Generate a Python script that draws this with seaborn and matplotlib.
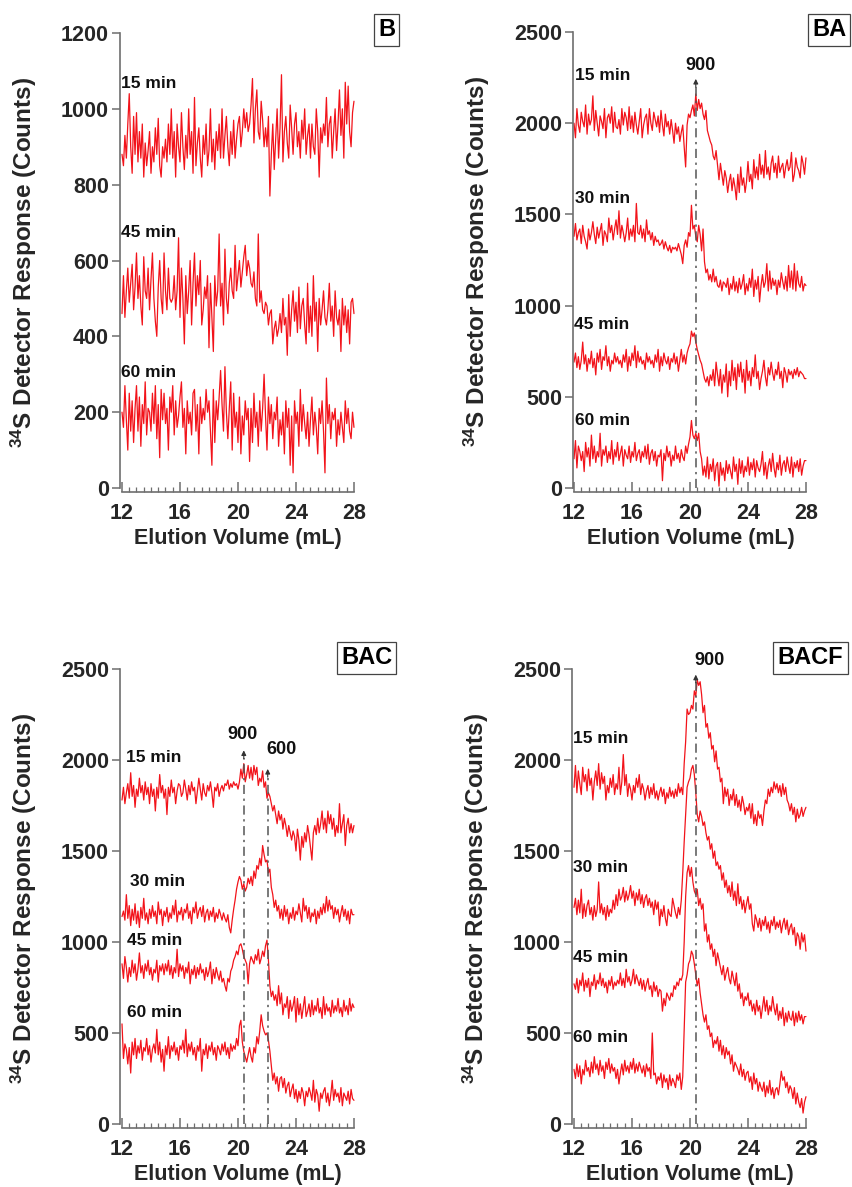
import numpy as np
import pandas as pd
import matplotlib
matplotlib.use("Agg")
import matplotlib.pyplot as plt
import seaborn as sns

# Readings every 0.1 mL from 12 to 28 mL; each row below covers 1 mL.

# ---- Panel B --------------------------------------------------------------
B_15 = [
    880, 850, 930, 870, 960, 1040, 900, 830, 980, 880,
    990, 860, 940, 870, 960, 820, 910, 850, 890, 940,
    830, 900, 860, 950, 880, 975, 850, 820, 900, 870,
    920, 860, 960, 880, 1000, 870, 940, 820, 960, 900,
    860, 990, 900, 840, 930, 870, 1000, 880, 940, 830,
    1030, 850, 910, 950, 870, 820, 930, 880, 960, 850,
    890, 1000, 860, 920, 840, 940, 890, 960, 870, 1000,
    870, 930, 980, 900, 850, 940, 880, 970, 870, 920,
    960, 980, 900, 940, 1000, 950, 990, 940, 960, 1010,
    1080, 910, 1000, 1050, 940, 920, 1020, 970, 900, 950,
    900, 980, 770, 880, 960, 840, 920, 1000, 870, 950,
    1090, 860, 940, 980, 910, 870, 1010, 950, 880, 960,
    990, 900, 940, 870, 970, 920, 1000, 880, 930, 960,
    870, 960, 900, 880, 1000, 940, 820, 950, 910, 960,
    930, 1030, 900, 960, 980, 870, 940, 1000, 890, 960,
    1050, 930, 1000, 870, 1070, 960, 1060, 940, 900, 990,
    1020]
B_45 = [
    460, 560, 450, 520, 580, 490, 540, 590, 470, 530,
    620, 500, 560, 480, 430, 610, 520, 500, 580, 470,
    550, 620, 500, 440, 400, 530, 600, 500, 460, 620,
    520, 470, 580, 500, 490, 500, 560, 470, 520, 660,
    450, 580, 500, 380, 560, 460, 520, 600, 430, 540,
    620, 480, 560, 510, 600, 430, 470, 530, 500, 560,
    370, 540, 450, 360, 560, 480, 520, 670, 480, 540,
    430, 630, 500, 460, 540, 580, 520, 500, 640, 520,
    560, 600, 530, 570, 610, 640, 560, 600, 580, 540,
    530, 570, 500, 480, 670, 490, 520, 470, 460, 490,
    480, 430, 460, 470, 380, 420, 440, 400, 420, 460,
    410, 500, 430, 450, 350, 510, 400, 470, 520, 440,
    490, 410, 530, 420, 480, 500, 430, 380, 540, 410,
    480, 400, 560, 440, 490, 360, 500, 430, 470, 520,
    450, 430, 470, 540, 440, 480, 400, 520, 450, 430,
    470, 360, 500, 430, 480, 410, 470, 380, 490, 500,
    460]
B_60 = [
    200, 160, 270, 180, 100, 250, 150, 230, 120, 210,
    270, 150, 240, 110, 220, 170, 280, 140, 210, 200,
    150, 250, 170, 270, 130, 220, 80, 260, 180, 250,
    170, 210, 100, 240, 200, 270, 140, 230, 160, 190,
    240, 280, 160, 210, 90, 230, 170, 200, 140, 250,
    260, 150, 220, 90, 240, 170, 210, 180, 260, 200,
    230, 150, 60, 260, 120, 230, 180, 240, 310, 220,
    150, 320, 200, 130, 210, 280, 100, 250, 160, 200,
    120, 240, 90, 190, 140, 230, 180, 210, 70, 210,
    120, 250, 160, 200, 110, 230, 150, 210, 300, 190,
    100, 240, 170, 220, 130, 200, 180, 240, 110, 180,
    140, 200, 90, 230, 160, 210, 60, 190, 40, 230,
    170, 200, 110, 260, 150, 220, 170, 130, 200, 110,
    180, 240, 140, 200, 160, 90, 210, 170, 230, 150,
    40, 290, 170, 220, 130, 200, 180, 210, 110, 180,
    140, 200, 160, 120, 230, 170, 210, 150, 130, 200,
    160]

# ---- Panel BA -------------------------------------------------------------
BA_15 = [
    2000, 1920, 2080, 1990, 1950, 2060, 2010, 1980, 2100, 1940,
    2050, 1990, 2020, 2150, 1960, 2070, 2000, 1930, 2040, 2010,
    1970, 2080, 1920, 2030, 2050, 2000, 2090, 1950, 2060, 1980,
    1970, 2020, 1940, 2080, 1990, 2060, 2030, 1960, 2090, 1970,
    2040, 1950, 2060, 1990, 1940, 2010, 2080, 1920, 1990, 2030,
    2050, 1940, 2080, 2000, 1960, 2060, 2020, 1980, 2040, 1950,
    2070, 1990, 1930, 2050, 1980, 2010, 1940, 2020, 1960, 1890,
    2000, 1940, 1980, 1900, 1950, 1990, 1870, 1760, 1990, 2050,
    2030, 2070, 2100, 2040, 2160, 2070, 2130, 2080, 2110, 2050,
    2020, 2070, 1960, 1930, 1900, 1880, 1820, 1800, 1850, 1770,
    1690, 1780, 1720, 1660, 1740, 1700, 1620, 1680, 1720, 1630,
    1700, 1650, 1580, 1720, 1620, 1760, 1660, 1700, 1620, 1680,
    1790, 1680, 1720, 1640, 1800, 1700, 1760, 1690, 1830, 1720,
    1770, 1700, 1850, 1720, 1760, 1690, 1780, 1820, 1730, 1780,
    1700, 1820, 1730, 1760, 1780, 1700, 1760, 1800, 1740, 1760,
    1840, 1680, 1720, 1810, 1760, 1740, 1700, 1820, 1780, 1720,
    1810]
BA_30 = [
    1380, 1450, 1360, 1400, 1420, 1340, 1440, 1380, 1350, 1310,
    1420, 1360, 1400, 1460, 1390, 1340, 1430, 1370, 1410, 1450,
    1330, 1410, 1390, 1350, 1480, 1400, 1440, 1360, 1420, 1470,
    1390, 1520, 1370, 1440, 1400, 1350, 1400, 1480, 1360, 1420,
    1380, 1440, 1350, 1560, 1400, 1390, 1440, 1370, 1420, 1350,
    1470, 1390, 1410, 1360, 1400, 1330, 1380, 1350, 1360, 1330,
    1340, 1360, 1310, 1350, 1320, 1300, 1330, 1290, 1320, 1310,
    1320, 1300, 1340, 1310, 1280, 1230, 1330, 1360, 1320, 1400,
    1380, 1550, 1420, 1440, 1380, 1350, 1440, 1390, 1300, 1420,
    1240, 1180, 1200, 1140, 1170, 1130, 1200, 1130, 1160, 1110,
    1100, 1140, 1080, 1130, 1120, 1100, 1150, 1060, 1120, 1090,
    1160, 1080, 1130, 1070, 1150, 1090, 1120, 1170, 1060, 1120,
    1080, 1150, 1100, 1200, 1050, 1140, 1090, 1160, 1020, 1110,
    1170, 1100, 1130, 1230, 1080, 1190, 1090, 1150, 1110, 1140,
    1060, 1140, 1100, 1180, 1130, 1090, 1160, 1080, 1220, 1100,
    1190, 1090, 1230, 1080, 1190, 1120, 1100, 1160, 1080, 1120,
    1110]
BA_45 = [
    690, 740, 660, 720, 650, 700, 800, 680, 730, 640,
    710, 680, 750, 660, 710, 620, 740, 690, 760, 650,
    720, 700, 780, 670, 720, 640, 700, 680, 740, 690,
    720, 680, 700, 660, 730, 690, 760, 640, 720, 670,
    740, 700, 780, 660, 750, 690, 720, 680, 700, 650,
    740, 690, 720, 680, 700, 660, 730, 690, 760, 640,
    720, 670, 740, 700, 680, 720, 650, 710, 690, 740,
    680, 720, 640, 700, 760, 690, 730, 680, 740, 770,
    790, 860, 830, 850, 800, 760, 730, 700, 680, 640,
    600, 580, 610, 560, 620, 590, 650, 560, 690, 620,
    560, 650, 520, 620, 580, 680, 500, 640, 560, 700,
    590, 660, 540, 680, 610, 690, 580, 650, 520, 700,
    590, 640, 560, 660, 610, 730, 600, 640, 540, 600,
    640, 700, 610, 560, 660, 620, 690, 630, 590, 650,
    620, 690, 600, 640, 550, 660, 630, 580, 650, 620,
    640, 600, 650, 620, 660, 610, 640, 630, 620, 600,
    600]
BA_60 = [
    160, 260, 110, 230, 200, 150, 200, 90, 250, 170,
    220, 120, 290, 160, 230, 140, 200, 170, 300, 120,
    210, 180, 230, 140, 200, 160, 260, 130, 210, 170,
    250, 150, 190, 230, 120, 210, 180, 160, 230, 140,
    200, 170, 250, 150, 190, 210, 140, 200, 170, 230,
    160, 240, 130, 190, 210, 150, 200, 120, 180, 170,
    210, 40, 190, 150, 230, 170, 200, 120, 180, 150,
    230, 160, 190, 140, 210, 170, 150, 230, 190, 240,
    280, 370, 290, 270, 300, 260, 300, 200, 160, 70,
    120, 60, 170, 50, 130, 90, 160, 40, 120, 140,
    10, 140, 70, 110, 40, 150, 80, 130, 90, 50,
    170, 90, 130, 20, 160, 80, 150, 60, 120, 90,
    170, 70, 140, 100, 160, 60, 150, 110, 90, 130,
    200, 70, 140, 50, 120, 160, 90, 190, 110, 60,
    140, 100, 180, 70, 130, 150, 90, 170, 120, 80,
    170, 60, 140, 110, 150, 90, 160, 70, 120, 150,
    150]

# ---- Panel BAC ------------------------------------------------------------
BAC_15 = [
    1780, 1850, 1760, 1820, 1870, 1790, 1930, 1800, 1860, 1740,
    1840, 1800, 1900, 1820, 1860, 1780, 1880, 1810, 1850, 1760,
    1870, 1800, 1840, 1720, 1850, 1790, 1920, 1820, 1860, 1790,
    1840, 1700, 1850, 1800, 1890, 1820, 1850, 1760, 1830, 1870,
    1860, 1800, 1820, 1890, 1840, 1780, 1860, 1810, 1880, 1830,
    1850, 1760, 1830, 1900, 1840, 1780, 1870, 1820, 1800, 1860,
    1830, 1880, 1820, 1740, 1850, 1830, 1870, 1800, 1840, 1860,
    1830, 1870, 1860, 1890, 1840, 1870, 1850, 1880, 1860, 1870,
    1840, 1880, 1950, 1900, 1980, 1880, 1920, 1970, 1900, 1960,
    1890, 1970, 1920, 1960, 1860, 1900, 1880, 1940, 1850, 1880,
    1790, 1820, 1800, 1760, 1720, 1750, 1700, 1650, 1720, 1670,
    1700, 1620, 1680, 1640, 1580, 1640, 1600, 1560, 1610, 1580,
    1500, 1620, 1560, 1450, 1580, 1520, 1600, 1550, 1640, 1590,
    1520, 1450, 1600, 1640, 1590, 1680, 1600, 1650, 1720, 1620,
    1680, 1600, 1720, 1650, 1700, 1620, 1680, 1580, 1640, 1600,
    1760, 1600, 1650, 1700, 1530, 1640, 1680, 1600, 1650, 1600,
    1640]
BAC_30 = [
    1140, 1170, 1120, 1260, 1130, 1200, 1090, 1180, 1120, 1210,
    1100, 1170, 1080, 1190, 1130, 1240, 1120, 1160, 1100, 1180,
    1130, 1200, 1140, 1170, 1100, 1220, 1150, 1180, 1090, 1170,
    1140, 1190, 1110, 1160, 1130, 1200, 1150, 1230, 1110, 1170,
    1150, 1190, 1120, 1180, 1160, 1210, 1130, 1170, 1100, 1190,
    1160, 1220, 1130, 1170, 1190, 1140, 1200, 1110, 1160, 1180,
    1120, 1170, 1140, 1190, 1110, 1160, 1130, 1180, 1150, 1120,
    1160, 1130, 1110, 1150, 1080, 1050, 1120, 1180, 1230, 1290,
    1330, 1360, 1340, 1290, 1320, 1280, 1300, 1350, 1320, 1360,
    1310, 1390, 1350, 1420, 1400, 1460, 1420, 1530, 1480, 1440,
    1450, 1380, 1400, 1300, 1260, 1190, 1230, 1170, 1200, 1130,
    1180, 1120, 1200, 1140, 1180, 1100, 1160, 1130, 1190, 1120,
    1170, 1150, 1210, 1160, 1110, 1240, 1170, 1200, 1130, 1190,
    1110, 1160, 1140, 1180, 1100, 1170, 1130, 1190, 1150, 1210,
    1160, 1250, 1170, 1230, 1180, 1200, 1130, 1190, 1150, 1180,
    1110, 1160, 1200, 1140, 1180, 1120, 1170, 1100, 1180, 1150,
    1150]
BAC_45 = [
    880, 800, 920, 860, 780, 860, 810, 900, 830, 880,
    790, 850, 940, 830, 870, 800, 880, 840, 900, 820,
    860, 790, 850, 830, 900, 780, 870, 840, 880, 820,
    880, 840, 900, 820, 870, 800, 860, 830, 960, 810,
    880, 840, 870, 800, 860, 830, 890, 770, 850, 820,
    870, 800, 860, 820, 880, 830, 850, 790, 860, 810,
    840, 890, 770, 850, 800, 860, 820, 790, 840, 780,
    800, 760, 730, 800, 780, 840, 860, 900, 920, 950,
    930, 980, 990, 960, 920, 900, 880, 770, 880, 920,
    900, 880, 930, 900, 960, 880, 910, 950, 920, 980,
    1010, 900, 760, 700, 730, 680, 710, 650, 760, 660,
    720, 600, 660, 640, 700, 580, 680, 620, 650, 700,
    560, 690, 600, 660, 580, 640, 700, 590, 620, 660,
    590, 680, 600, 650, 620, 690, 610, 640, 580, 700,
    600, 660, 620, 640, 590, 680, 610, 650, 620, 690,
    610, 640, 590, 680, 620, 650, 600, 690, 620, 660,
    640]
BAC_60 = [
    550, 360, 440, 410, 330, 420, 280, 450, 380, 470,
    360, 430, 390, 460, 350, 420, 400, 470, 380, 430,
    340, 410, 440, 390, 520, 380, 450, 340, 410, 290,
    430, 380, 480, 360, 430, 400, 450, 380, 420, 350,
    430, 410, 460, 390, 520, 370, 440, 400, 450, 380,
    420, 350, 430, 400, 470, 290, 410, 380, 440, 360,
    430, 400, 450, 380, 420, 350, 430, 410, 380, 440,
    400, 450, 380, 420, 360, 440, 400, 430, 410, 470,
    430, 540, 570, 450, 400, 370, 340, 380, 420, 370,
    340, 420, 390, 480, 440, 510, 600, 540, 510, 490,
    500, 460, 400, 320, 240, 280, 220, 260, 180, 250,
    260, 200, 250, 170, 210, 230, 150, 190, 220, 140,
    190, 120, 180, 140, 200, 170, 100, 180, 150, 200,
    170, 130, 240, 120, 190, 160, 70, 170, 140, 180,
    200, 120, 170, 100, 160, 240, 130, 190, 150, 170,
    120, 200, 100, 170, 150, 130, 180, 110, 190, 140,
    130]

# ---- Panel BACF -----------------------------------------------------------
BACF_15 = [
    1850, 1970, 1820, 1940, 1870, 1810, 1960, 1880, 1920, 1830,
    1950, 1860, 1900, 1780, 1880, 1940, 1860, 1980, 1840, 1930,
    1870, 1910, 1780, 1860, 1820, 1900, 1850, 1920, 1810, 1870,
    1840, 1960, 1810, 1880, 2030, 1860, 1920, 1800, 1870, 1840,
    1780, 1860, 1820, 1900, 1850, 1920, 1810, 1870, 1840, 1780,
    1830, 1860, 1790, 1850, 1810, 1870, 1790, 1830, 1780, 1820,
    1850, 1800, 1840, 1760, 1820, 1790, 1850, 1800, 1830, 1790,
    1840, 1800, 1870, 1820, 1850, 1810, 1980, 2100, 2280, 2250,
    2260, 2300, 2280, 2380, 2350, 2440, 2410, 2430, 2360, 2260,
    2300, 2180, 2200, 2120, 2150, 2060, 2080, 1990, 2050, 1950,
    1960, 1880, 1900, 1760, 1850, 1800, 1840, 1750, 1810, 1780,
    1840, 1750, 1810, 1740, 1780, 1720, 1800, 1760, 1700, 1740,
    1720, 1760, 1680, 1760, 1650, 1700, 1640, 1720, 1680, 1700,
    1640, 1720, 1780, 1760, 1840, 1800, 1850, 1820, 1880, 1840,
    1870, 1820, 1860, 1800, 1870, 1810, 1850, 1780, 1760, 1720,
    1760, 1700, 1740, 1660, 1730, 1680, 1700, 1740, 1690, 1720,
    1740]
BACF_30 = [
    1190, 1240, 1150, 1230, 1160, 1290, 1130, 1210, 1140, 1200,
    1230, 1150, 1190, 1120, 1200, 1140, 1180, 1330, 1160, 1210,
    1150, 1190, 1120, 1200, 1140, 1180, 1160, 1230, 1180, 1260,
    1200, 1290, 1230, 1250, 1300, 1220, 1280, 1230, 1260, 1310,
    1240, 1280, 1200, 1270, 1230, 1290, 1210, 1260, 1190, 1240,
    1260, 1200, 1240, 1190, 1220, 1150, 1230, 1180, 1220, 1090,
    1180, 1140, 1200, 1130, 1090, 1180, 1150, 1140, 1240, 1200,
    1160, 1130, 1190, 1150, 1230, 1380, 1550, 1700, 1850, 1880,
    1900, 1950, 1970, 1920, 1820, 1700, 1660, 1720, 1690, 1640,
    1660, 1600, 1560, 1580, 1510, 1540, 1460, 1500, 1420, 1440,
    1400, 1420, 1340, 1380, 1300, 1340, 1270, 1310, 1250, 1330,
    1230, 1280, 1200, 1320, 1210, 1250, 1180, 1230, 1160, 1210,
    1250, 1180, 1210, 1100, 1060, 1150, 1120, 1080, 1130, 1060,
    1120, 1090, 1140, 1070, 1110, 1050, 1120, 1090, 1140, 1070,
    1110, 1080, 1120, 1050, 1100, 1130, 1070, 1120, 1040, 1080,
    1100, 1040, 1080, 980, 1050, 1030, 960, 1050, 1000, 1040,
    950]
BACF_45 = [
    770, 740, 800, 720, 790, 760, 830, 730, 790, 750,
    800, 700, 780, 760, 820, 740, 790, 770, 830, 760,
    800, 750, 780, 720, 790, 760, 810, 740, 780, 760,
    790, 770, 830, 760, 800, 750, 850, 780, 810, 760,
    790, 850, 770, 820, 790, 760, 800, 740, 790, 730,
    770, 800, 740, 760, 700, 780, 730, 760, 700, 740,
    730, 620, 690, 650, 720, 700, 680, 720, 700, 760,
    740, 780, 760, 800, 790, 820, 1000, 1250, 1380, 1420,
    1360, 1410, 1330, 1280, 1260, 1290, 1200, 1240, 1180, 1210,
    1060, 1100, 1000, 1040, 960, 990, 920, 960, 870, 940,
    900, 860, 820, 870, 790, 830, 860, 800, 770, 840,
    800, 760, 830, 730, 770, 690, 720, 650, 700, 680,
    720, 650, 680, 620, 660, 600, 680, 620, 650, 580,
    640, 700, 620, 680, 600, 650, 620, 700, 640, 600,
    660, 570, 620, 580, 640, 540, 610, 560, 620, 580,
    570, 620, 540, 610, 560, 620, 570, 600, 550, 590,
    590]
BACF_60 = [
    300, 250, 330, 260, 320, 220, 300, 270, 350, 290,
    310, 260, 340, 280, 370, 300, 330, 270, 350, 290,
    320, 250, 340, 300, 360, 280, 330, 290, 310, 250,
    300, 220, 280, 330, 270, 350, 290, 320, 280, 340,
    300, 360, 280, 330, 290, 340, 310, 280, 320, 260,
    330, 290, 310, 250, 500, 270, 280, 220, 260, 240,
    280, 200, 270, 230, 250, 190, 270, 210, 250, 230,
    200, 270, 240, 280, 190, 260, 520, 780, 820, 880,
    900, 950, 930, 880, 820, 760, 800, 720, 660, 600,
    560, 600, 520, 540, 480, 500, 420, 460, 440, 480,
    400, 460, 380, 430, 360, 420, 380, 400, 330, 380,
    290, 340, 320, 300, 270, 330, 260, 300, 240, 280,
    290, 230, 260, 190, 280, 220, 250, 180, 230, 200,
    180, 230, 150, 210, 170, 240, 160, 200, 140, 190,
    200, 160, 220, 290, 240, 260, 200, 230, 170, 210,
    190, 140, 200, 110, 170, 120, 90, 140, 60, 120,
    150]

TRACE_LABELS_B = ["15 min", "45 min", "60 min"]
TRACE_LABELS = ["15 min", "30 min", "45 min", "60 min"]
PANEL_NAMES = ["B", "BA", "BAC", "BACF"]
PEAK_NAMES_BA = ["900"]
PEAK_NAMES_BAC = ["900", "600"]
PEAK_VOLUMES_BA = [20.4]
PEAK_VOLUMES_BAC = [20.4, 22.05]

RED = "#f2131a"
AXIS_GREY = "#6e6e6e"
FONT = "Liberation Sans"

sns.set_theme(style="ticks")
plt.rcParams["font.family"] = [FONT, "DejaVu Sans"]
plt.rcParams["font.weight"] = "bold"
plt.rcParams["mathtext.fontset"] = "custom"
plt.rcParams["mathtext.rm"] = f"{FONT}:bold"
plt.rcParams["mathtext.bf"] = f"{FONT}:bold"
plt.rcParams["mathtext.default"] = "rm"

W, H = 853, 1187
fig = plt.figure(figsize=(W / 100, H / 100), dpi=100)


def px_axes(left, right, top, bottom):
    return fig.add_axes([left / W, 1 - bottom / H, (right - left) / W, (bottom - top) / H])


panels = [
    dict(name=PANEL_NAMES[0], traces=[B_15, B_45, B_60], labels=TRACE_LABELS_B,
         box=(120, 356, 33, 492), ylim=(-10.5, 1200), yticks=np.arange(0, 1201, 200),
         xlim=(11.862, 28.14),
         label_pos=[(11.95, 1067), (11.95, 673), (11.95, 304)],
         peaks=[], tag_xy=(386.5, 30)),
    dict(name=PANEL_NAMES[1], traces=[BA_15, BA_30, BA_45, BA_60], labels=TRACE_LABELS,
         box=(573, 808, 32, 492), ylim=(-22, 2500), yticks=np.arange(0, 2501, 500),
         xlim=(11.93, 28.14),
         label_pos=[(12.08, 2262), (12.08, 1588), (12.0, 898), (12.08, 371)],
         peaks=[(PEAK_VOLUMES_BA[0], 2243, PEAK_NAMES_BA[0], 20.72, 2318)],
         tag_xy=(829, 30)),
    dict(name=PANEL_NAMES[2], traces=[BAC_15, BAC_30, BAC_45, BAC_60], labels=TRACE_LABELS,
         box=(120, 356, 669, 1128), ylim=(-22, 2500), yticks=np.arange(0, 2501, 500),
         xlim=(11.862, 28.14),
         label_pos=[(12.28, 2016), (12.55, 1333), (12.32, 1008), (12.32, 613)],
         peaks=[(PEAK_VOLUMES_BAC[0], 2053, PEAK_NAMES_BAC[0], 20.3, 2140),
                (PEAK_VOLUMES_BAC[1], 1951, PEAK_NAMES_BAC[1], 23.0, 2058)],
         tag_xy=(366.5, 658)),
    dict(name=PANEL_NAMES[3], traces=[BACF_15, BACF_30, BACF_45, BACF_60], labels=TRACE_LABELS,
         box=(572, 808, 669, 1128), ylim=(-22, 2500), yticks=np.arange(0, 2501, 500),
         xlim=(11.862, 28.14),
         label_pos=[(11.95, 2119), (11.95, 1409), (11.95, 916), (11.95, 473)],
         peaks=[(PEAK_VOLUMES_BA[0], 2469, PEAK_NAMES_BA[0], 21.38, 2547)],
         tag_xy=(810.5, 658)),
]

for p in panels:
    ax = px_axes(*p["box"])
    frames = [pd.DataFrame({"volume": np.linspace(12, 28, len(vals)), "counts": vals,
                            "time": lab})
              for vals, lab in zip(p["traces"], p["labels"])]
    df = pd.concat(frames, ignore_index=True)
    sns.lineplot(data=df, x="volume", y="counts", hue="time", units="time",
                 estimator=None, sort=False, palette={l: RED for l in p["labels"]},
                 linewidth=0.9, legend=False, ax=ax)

    # peak markers: dash-dot guide line from the axis up to an arrow head
    for vol, tip, text, tx, ty in p["peaks"]:
        ax.plot([vol, vol], [0, tip - 40], ls=(0, (6, 3, 1.5, 3)), color="#555555", lw=1.1)
        ax.annotate("", xy=(vol, tip), xytext=(vol, tip - 45),
                    arrowprops=dict(arrowstyle="-|>", color="#333333", lw=0.8,
                                    mutation_scale=7, shrinkA=0, shrinkB=0))
        ax.text(tx, ty, text, ha="center", va="center", fontsize=13,
                fontweight="bold", color="#111111")

    for (lx, ly), lab in zip(p["label_pos"], p["labels"]):
        ax.text(lx, ly, lab, ha="left", va="center", fontsize=12.5,
                fontweight="bold", color="#111111")

    ax.set_xlim(*p["xlim"])
    ax.set_ylim(*p["ylim"])
    ax.set_xticks([12, 16, 20, 24, 28])
    ax.set_xticks(np.arange(12, 28.01, 0.5), minor=True)
    ax.set_yticks(p["yticks"])
    ax.tick_params(axis="x", which="major", direction="in", length=7, width=1.1,
                   color=AXIS_GREY, labelsize=15.5, pad=8)
    ax.tick_params(axis="x", which="minor", direction="in", length=3.5, width=0.9,
                   color=AXIS_GREY)
    ax.tick_params(axis="y", which="major", direction="out", length=6, width=1.1,
                   color=AXIS_GREY, labelsize=15.5, pad=2)
    for lab in ax.get_xticklabels() + ax.get_yticklabels():
        lab.set_fontweight("bold")
    sns.despine(ax=ax)
    ax.spines["left"].set_bounds(0, p["ylim"][1])
    ax.spines["bottom"].set_bounds(12, 28)
    for s in ("left", "bottom"):
        ax.spines[s].set_color(AXIS_GREY)
        ax.spines[s].set_linewidth(1.2)

    ax.set_xlabel("Elution Volume (mL)", fontsize=15.5, fontweight="bold")
    ax.set_ylabel(r"$^{34}$S Detector Response (Counts)", fontsize=17.5, fontweight="bold")
    ax.xaxis.set_label_coords(0.5, -0.079)
    ax.yaxis.set_label_coords(-0.345, 0.5)

    tx, ty = p["tag_xy"]
    fig.text(tx / W, 1 - ty / H, p["name"], ha="center", va="center", fontsize=17,
             fontweight="bold", color="black",
             bbox=dict(boxstyle="square,pad=0.18", fc="white", ec="#444444", lw=0.9))

fig.savefig("out.png", dpi=100)
